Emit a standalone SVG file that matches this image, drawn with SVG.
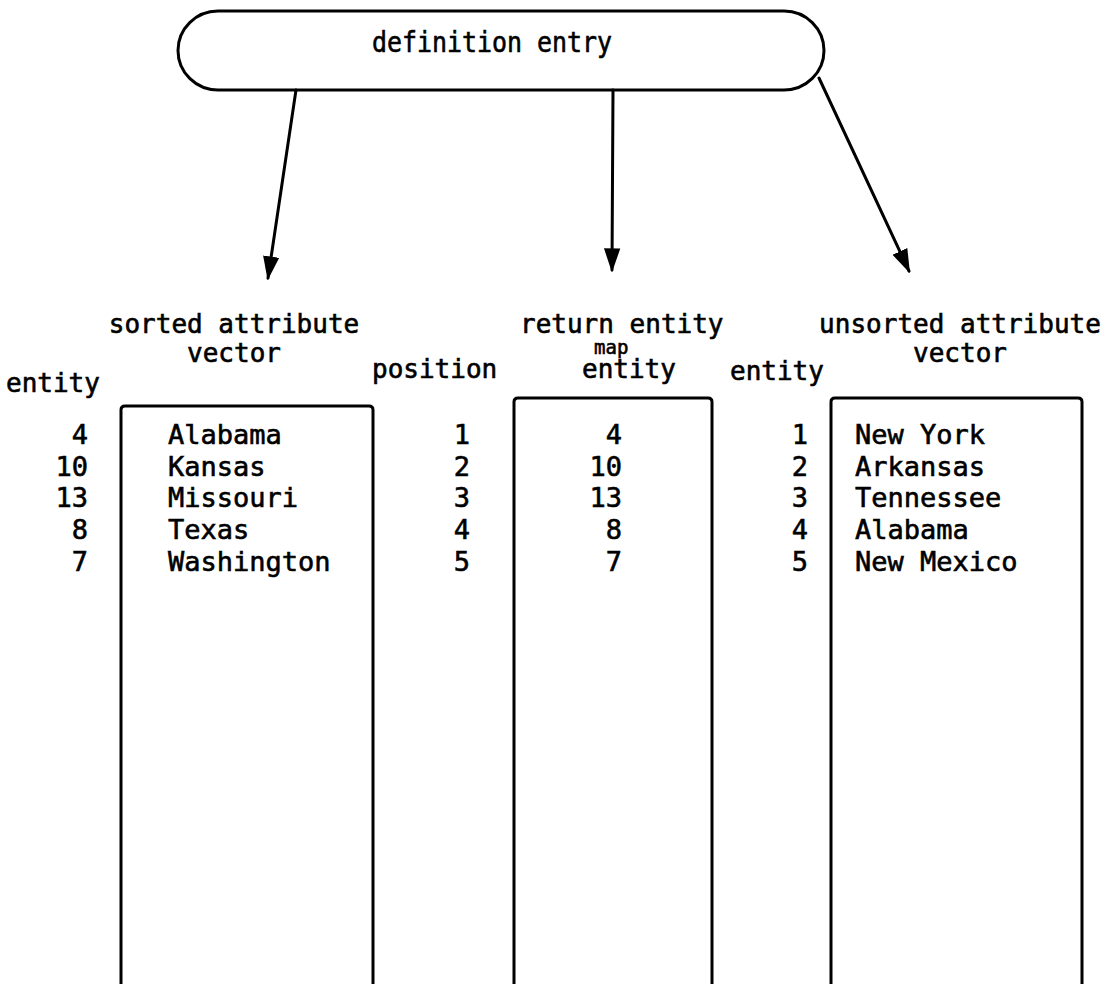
<svg xmlns="http://www.w3.org/2000/svg" width="1104" height="984" viewBox="0 0 1104 984">
  <style>
    .t { font-family: "DejaVu Sans Mono", "Liberation Mono", monospace; font-size: 26px; fill: #000; stroke: #000; stroke-width: 0.6; }
    .b { font-size: 27px; }
    .r { text-anchor: end; }
    .m { text-anchor: middle; }
    .ln { fill: none; stroke: #000; stroke-width: 3; stroke-linecap: round; stroke-linejoin: round; }
  </style>
  <defs>
    <marker id="ah" viewBox="0 0 10 10" refX="9" refY="5" markerWidth="8" markerHeight="8" markerUnits="strokeWidth" orient="auto">
      <path d="M0,1.6 L10,5 L0,8.4 Z" fill="#000"/>
    </marker>
  </defs>
  <rect width="1104" height="984" fill="#fff"/>

  <!-- top node -->
  <g id="definition-entry">
    <rect class="ln" x="178" y="11" width="646" height="79" rx="40" ry="40"/>
    <text class="t m" x="492" y="52" style="font-size:28px" textLength="240" lengthAdjust="spacingAndGlyphs">definition  entry</text>
  </g>

  <!-- arrows from the definition entry to the three vectors -->
  <g id="connectors">
    <line class="ln" x1="296" y1="90" x2="268" y2="278" marker-end="url(#ah)"/>
    <line class="ln" x1="613" y1="90" x2="612" y2="270" marker-end="url(#ah)"/>
    <line class="ln" x1="819" y1="78" x2="909" y2="271" marker-end="url(#ah)"/>
  </g>

  <!-- sorted attribute vector -->
  <g id="sorted-vector">
    <text class="t m" x="234" y="333">sorted attribute</text>
    <text class="t m" x="234" y="362">vector</text>
    <text class="t" x="6" y="392">entity</text>
    <path class="ln" d="M121,984 V410 Q121,406 125,406 H369 Q373,406 373,410 V984"/>
    <g class="t b r">
      <text x="88" y="444">4</text>
      <text x="88" y="476">10</text>
      <text x="88" y="507">13</text>
      <text x="88" y="539">8</text>
      <text x="88" y="571">7</text>
    </g>
    <g class="t b">
      <text x="168" y="444">Alabama</text>
      <text x="168" y="476">Kansas</text>
      <text x="168" y="507">Missouri</text>
      <text x="168" y="539">Texas</text>
      <text x="168" y="571">Washington</text>
    </g>
  </g>

  <!-- return entity map -->
  <g id="return-entity-map">
    <text class="t" x="520" y="333">return entity</text>
    <text class="t" x="594" y="354" style="font-size:19px">map</text>
    <text class="t" x="582" y="378">entity</text>
    <text class="t" x="372" y="378">position</text>
    <path class="ln" d="M514,984 V402 Q514,398 518,398 H708 Q712,398 712,402 V984"/>
    <g class="t b r">
      <text x="470" y="444">1</text>
      <text x="470" y="476">2</text>
      <text x="470" y="507">3</text>
      <text x="470" y="539">4</text>
      <text x="470" y="571">5</text>
    </g>
    <g class="t b r">
      <text x="622" y="444">4</text>
      <text x="622" y="476">10</text>
      <text x="622" y="507">13</text>
      <text x="622" y="539">8</text>
      <text x="622" y="571">7</text>
    </g>
  </g>

  <!-- unsorted attribute vector -->
  <g id="unsorted-vector">
    <text class="t m" x="960" y="333">unsorted attribute</text>
    <text class="t m" x="960" y="362">vector</text>
    <text class="t" x="730" y="380">entity</text>
    <path class="ln" d="M831,984 V402 Q831,398 835,398 H1078 Q1082,398 1082,402 V984"/>
    <g class="t b r">
      <text x="808" y="444">1</text>
      <text x="808" y="476">2</text>
      <text x="808" y="507">3</text>
      <text x="808" y="539">4</text>
      <text x="808" y="571">5</text>
    </g>
    <g class="t b">
      <text x="855" y="444">New York</text>
      <text x="855" y="476">Arkansas</text>
      <text x="855" y="507">Tennessee</text>
      <text x="855" y="539">Alabama</text>
      <text x="855" y="571">New Mexico</text>
    </g>
  </g>
</svg>
